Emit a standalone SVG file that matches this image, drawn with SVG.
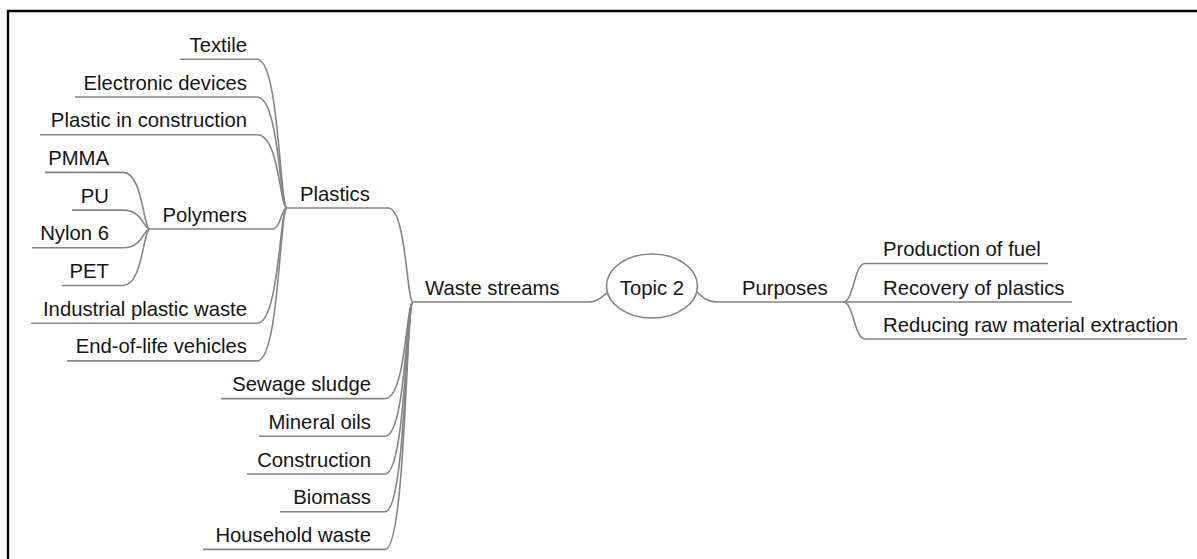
<svg xmlns="http://www.w3.org/2000/svg" width="1197" height="559" viewBox="0 0 1197 559">
  <style>
    text { font-family: "Liberation Sans", Arial, sans-serif; font-size: 20.3px; fill: #141414; }
    .end { text-anchor: end; }
    .mid { text-anchor: middle; }
    .ul, .link { fill: none; stroke: #858585; stroke-width: 1.6; }
    .topic { fill: #ffffff; stroke: #858585; stroke-width: 1.6; }
    .frame { stroke: #000000; stroke-width: 2.4; fill: none; }
  </style>

  <rect width="1197" height="559" fill="#ffffff"/>
  <path class="frame" d="M7 11 H1197 M8 10 V559"/>

  <!-- connectors -->
  <g id="connectors">
    <!-- Plastics children -> Plastics junction (287,208) -->
    <path class="link" d="M257 59.3 C279.5 59.3 279.5 208 287 208"/>
    <path class="link" d="M257 97 C279.5 97 279.5 208 287 208"/>
    <path class="link" d="M257 134.7 C279.5 134.7 279.5 208 287 208"/>
    <path class="link" d="M272 229 C281 229 281 208 287 208"/>
    <path class="link" d="M257 323.2 C279.5 323.2 279.5 208 287 208"/>
    <path class="link" d="M257 360.9 C279.5 360.9 279.5 208 287 208"/>
    <!-- Polymers children -> Polymers junction (150,229) -->
    <path class="link" d="M123 172.4 C143 172.4 143 229 150 229"/>
    <path class="link" d="M123 210.1 C143 210.1 143 229 150 229"/>
    <path class="link" d="M123 247.8 C143 247.8 143 229 150 229"/>
    <path class="link" d="M123 285.5 C143 285.5 143 229 150 229"/>
    <!-- Waste streams children -> junction (413,302) -->
    <path class="link" d="M388 208 C406.5 208 406.5 302 413 302"/>
    <path class="link" d="M385 398.6 C406 398.6 406 302 413 302"/>
    <path class="link" d="M385 436.3 C406 436.3 406 302 413 302"/>
    <path class="link" d="M385 474 C406 474 406 302 413 302"/>
    <path class="link" d="M385 511.7 C406 511.7 406 302 413 302"/>
    <path class="link" d="M385 549.4 C406 549.4 406 302 413 302"/>
    <!-- central topic links -->
    <path class="link" d="M588 302 C598 302 601 297 607 293"/>
    <path class="link" d="M697 292 C703 298 708 302 718 302"/>
    <!-- Purposes children -->
    <path class="link" d="M843 302 C854 302 854 263.5 865 263.5"/>
    <path class="link" d="M843 302 C854 302 854 339 865 339"/>
  </g>

  <!-- central topic -->
  <g id="topic2">
    <ellipse class="topic" cx="652" cy="286" rx="45.5" ry="32"/>
    <text class="mid" x="652" y="295">Topic 2</text>
  </g>

  <!-- main branches -->
  <g id="waste-streams">
    <path class="ul" d="M413 302 H588"/>
    <text x="425" y="295">Waste streams</text>
  </g>
  <g id="purposes">
    <path class="ul" d="M718 302 H843"/>
    <text x="742" y="295">Purposes</text>
  </g>

  <!-- Waste streams subtopics -->
  <g id="plastics">
    <path class="ul" d="M287 208 H388"/>
    <text x="300" y="200.5">Plastics</text>
  </g>
  <g id="sewage-sludge">
    <path class="ul" d="M221 398.6 H385"/>
    <text class="end" x="371" y="391">Sewage sludge</text>
  </g>
  <g id="mineral-oils">
    <path class="ul" d="M259 436.3 H385"/>
    <text class="end" x="371" y="428.8">Mineral oils</text>
  </g>
  <g id="construction">
    <path class="ul" d="M247 474 H385"/>
    <text class="end" x="371" y="466.5">Construction</text>
  </g>
  <g id="biomass">
    <path class="ul" d="M280 511.7 H385"/>
    <text class="end" x="371" y="504.2">Biomass</text>
  </g>
  <g id="household-waste">
    <path class="ul" d="M203 549.4 H385"/>
    <text class="end" x="371" y="541.9">Household waste</text>
  </g>

  <!-- Plastics subtopics -->
  <g id="textile">
    <path class="ul" d="M180 59.3 H257"/>
    <text class="end" x="247" y="51.8">Textile</text>
  </g>
  <g id="electronic-devices">
    <path class="ul" d="M75 97 H257"/>
    <text class="end" x="247" y="89.5">Electronic devices</text>
  </g>
  <g id="plastic-in-construction">
    <path class="ul" d="M40 134.7 H257"/>
    <text class="end" x="247" y="127.2">Plastic in construction</text>
  </g>
  <g id="polymers">
    <path class="ul" d="M150 229 H272"/>
    <text class="end" x="247" y="221.5">Polymers</text>
  </g>
  <g id="industrial-plastic-waste">
    <path class="ul" d="M31 323.2 H257"/>
    <text class="end" x="247" y="315.7">Industrial plastic waste</text>
  </g>
  <g id="end-of-life-vehicles">
    <path class="ul" d="M67 360.9 H257"/>
    <text class="end" x="247" y="353.4">End-of-life vehicles</text>
  </g>

  <!-- Polymers subtopics -->
  <g id="pmma">
    <path class="ul" d="M45 172.4 H123"/>
    <text class="end" x="109" y="164.9">PMMA</text>
  </g>
  <g id="pu">
    <path class="ul" d="M72 210.1 H123"/>
    <text class="end" x="109" y="202.6">PU</text>
  </g>
  <g id="nylon-6">
    <path class="ul" d="M32 247.8 H123"/>
    <text class="end" x="109" y="240.3">Nylon 6</text>
  </g>
  <g id="pet">
    <path class="ul" d="M62 285.5 H123"/>
    <text class="end" x="109" y="278">PET</text>
  </g>

  <!-- Purposes subtopics -->
  <g id="production-of-fuel">
    <path class="ul" d="M865 263.5 H1048"/>
    <text x="883" y="256">Production of fuel</text>
  </g>
  <g id="recovery-of-plastics">
    <path class="ul" d="M843 302 H1072"/>
    <text x="883" y="294.5">Recovery of plastics</text>
  </g>
  <g id="reducing-raw-material-extraction">
    <path class="ul" d="M865 339 H1187"/>
    <text x="883" y="331.5">Reducing raw material extraction</text>
  </g>
</svg>
